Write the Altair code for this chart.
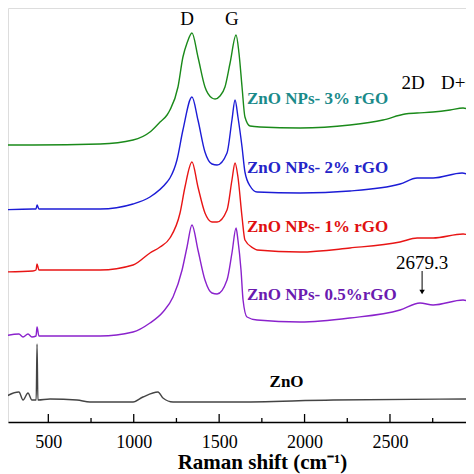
import altair as alt
import pandas as pd

# Raman spectra (wavenumber in cm-1, intensity in arbitrary offset units)
zno_w = [217, 328, 352, 381, 404, 429, 434, 439, 510, 668, 744, 996, 1054, 1142, 1171, 1230, 1581, 2167, 2992]
zno_i = [22, 30, 22, 29, 22, 22, 78, 22, 23, 22, 20, 20, 25, 30, 24, 20, 20, 22, 23]

r05_w = [217, 328, 352, 381, 404, 428, 434, 445, 803, 996, 1095, 1171, 1230, 1283, 1312, 1341, 1376, 1417, 1458, 1488,
         1546, 1575, 1599, 1610, 1628, 1640, 1663, 1722, 1974, 2266, 2559, 2676, 2752, 2928, 2992]
r05_i = [85, 88, 85, 88, 85, 86, 95, 86, 86, 90, 99, 110, 125, 152, 175, 197, 172, 142, 129, 128,
         142, 169, 194, 182, 152, 122, 105, 102, 100, 104, 112, 119, 117, 122, 117]

r1_w = [217, 410, 428, 434, 445, 803, 996, 1095, 1154, 1212, 1271, 1300, 1341, 1376, 1417, 1458, 1488, 1546, 1575, 1593,
        1610, 1634, 1651, 1698, 1722, 1974, 2266, 2559, 2659, 2752, 2928, 2992]
r1_i = [150, 151, 152, 158, 152, 152, 157, 169, 175, 184, 209, 235, 260, 235, 209, 200, 200, 212, 242, 259,
        245, 205, 182, 174, 172, 170, 174, 180, 184, 184, 188, 185]

r2_w = [217, 410, 428, 434, 445, 803, 996, 1095, 1195, 1212, 1253, 1288, 1341, 1376, 1417, 1458, 1488, 1546, 1575, 1593,
        1610, 1634, 1651, 1681, 1722, 1974, 2266, 2559, 2659, 2752, 2922, 2992]
r2_i = [212, 213, 213, 217, 213, 213, 218, 225, 240, 244, 262, 292, 325, 302, 270, 258, 257, 269, 302, 322,
        305, 275, 250, 236, 230, 229, 231, 238, 244, 244, 249, 244]

r3_w = [217, 410, 803, 996, 1095, 1154, 1195, 1212, 1259, 1288, 1312, 1341, 1376, 1417, 1458, 1476, 1505, 1534, 1564, 1599,
        1616, 1634, 1651, 1681, 1739, 1974, 2266, 2459, 2588, 2659, 2752, 2852, 2928, 2992]
r3_i = [277, 277, 278, 282, 290, 300, 307, 312, 335, 365, 379, 389, 365, 335, 324, 323, 326, 335, 359, 387,
        369, 335, 305, 296, 295, 294, 297, 302, 308, 309, 310, 312, 314, 309]

series_names = ["ZnO", "0.5%", "1%", "2%", "3%"]
series_colors = ["#444444", "#8a22cc", "#e81515", "#1c1cd6", "#1a8a1a"]

# annotation texts
lab_text = ["D", "G", "2D", "D+G", "2679.3"]
lab_w = [1312, 1575, 2635, 2799, 2688]
lab_i = [403, 403, 339, 339, 159]
lab_align = ["center", "center", "center", "left", "center"]

name_text = ["ZnO NPs- 3% rGO", "ZnO NPs- 2% rGO", "ZnO NPs- 1% rGO", "ZnO NPs- 0.5%rGO", "ZnO"]
name_w = [1663, 1663, 1663, 1663, 1795]
name_i = [323, 254, 195, 127, 40]
name_colors = ["#1a8a8a", "#2424c8", "#e01010", "#6a1ab0", "#000000"]

major_ticks = [500, 1000, 1500, 2000, 2500]
minor_ticks = [750, 1250, 1750, 2250, 2750]

rows = []
for name, ws, iis in zip(series_names, [zno_w, r05_w, r1_w, r2_w, r3_w], [zno_i, r05_i, r1_i, r2_i, r3_i]):
    for k, (w, i) in enumerate(zip(ws, iis)):
        rows.append({"s": name, "w": w, "i": i, "o": k})
df = pd.DataFrame(rows)

XD = [264, 2945]
YD = [0, 414]
xs = alt.Scale(domain=XD, nice=False, zero=False)
ys = alt.Scale(domain=YD, nice=False, zero=False)

lines = alt.Chart(df).mark_line(strokeWidth=1.4, clip=True, interpolate="monotone").encode(
    x=alt.X("w:Q", scale=xs, title="Raman shift (cm⁻¹)",
            axis=alt.Axis(values=major_ticks, format="d", ticks=False, tickSize=0, grid=False,
                          labelFont="Liberation Serif", labelFontSize=18, labelColor="black",
                          labelBaseline="alphabetic", labelPadding=25,
                          domainColor="black", domainWidth=1.5,
                          titleFont="Liberation Serif", titleFontSize=21, titleFontWeight="bold",
                          titleColor="black", titleBaseline="alphabetic", titleX=254, titleY=46,
                          titleAnchor="middle")),
    y=alt.Y("i:Q", scale=ys, axis=None),
    color=alt.Color("s:N", scale=alt.Scale(domain=series_names, range=series_colors), legend=None),
    detail="s:N",
    order="o:Q",
)

tdf = pd.DataFrame({"w": major_ticks, "i": [0] * 5, "i2": [8] * 5})
mdf = pd.DataFrame({"w": minor_ticks, "i": [0] * 5, "i2": [4] * 5})
maj = alt.Chart(tdf).mark_rule(color="black", strokeWidth=1.3).encode(
    x=alt.X("w:Q", scale=xs), y=alt.Y("i:Q", scale=ys), y2="i2:Q")
mnr = alt.Chart(mdf).mark_rule(color="black", strokeWidth=1.3, clip=True).encode(
    x=alt.X("w:Q", scale=xs), y=alt.Y("i:Q", scale=ys), y2="i2:Q")

ldf = pd.DataFrame({"t": lab_text, "w": lab_w, "i": lab_i, "a": lab_align})
labs_c = alt.Chart(ldf[ldf.a == "center"]).mark_text(
    font="Liberation Serif", fontSize=19, color="black", align="center", baseline="middle").encode(
    x=alt.X("w:Q", scale=xs), y=alt.Y("i:Q", scale=ys), text="t:N")
labs_l = alt.Chart(ldf[ldf.a == "left"]).mark_text(
    font="Liberation Serif", fontSize=19, color="black", align="left", baseline="middle").encode(
    x=alt.X("w:Q", scale=xs), y=alt.Y("i:Q", scale=ys), text="t:N")

ndf = pd.DataFrame({"t": name_text, "w": name_w, "i": name_i, "c": name_colors})
names = alt.Chart(ndf).mark_text(
    font="Liberation Serif", fontSize=17, fontWeight="bold", align="left", baseline="middle").encode(
    x=alt.X("w:Q", scale=xs), y=alt.Y("i:Q", scale=ys), text="t:N",
    color=alt.Color("c:N", scale=None))

adf = pd.DataFrame({"w": [2688], "i": [151], "i2": [130]})
arrow_line = alt.Chart(adf).mark_rule(color="black", strokeWidth=1).encode(
    x=alt.X("w:Q", scale=xs), y=alt.Y("i:Q", scale=ys), y2="i2:Q")
arrow_head = alt.Chart(adf).mark_point(shape="triangle-down", filled=True, color="black", size=30, opacity=1).encode(
    x=alt.X("w:Q", scale=xs), y=alt.Y("i2:Q", scale=ys))

chart = alt.layer(lines, maj, mnr, labs_c, labs_l, names, arrow_line, arrow_head).properties(
    width=458, height=414,
    autosize=alt.AutoSizeParams(type="none"),
    padding={"left": 0, "top": 0, "right": 0, "bottom": 52},
).configure_view(stroke=None).configure(background="white")

chart.save("out.html", embed_options={"renderer": "svg", "actions": False})
